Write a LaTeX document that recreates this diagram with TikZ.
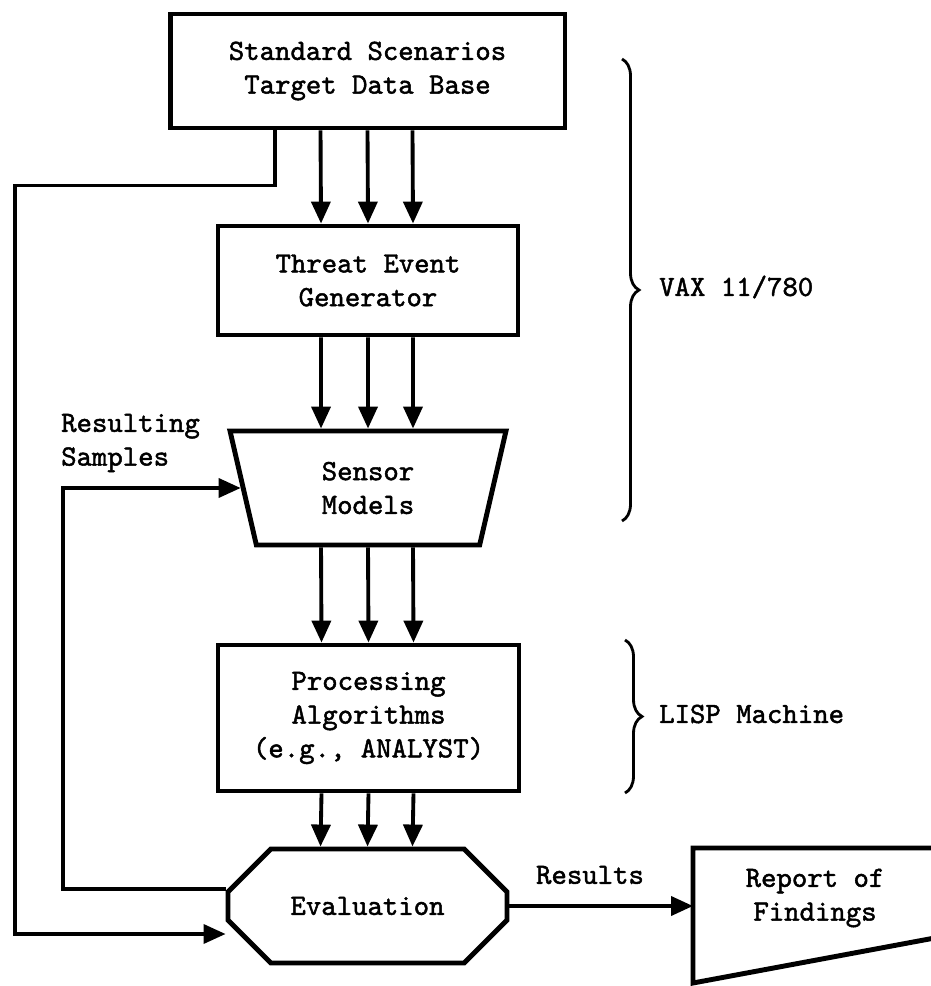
\documentclass[tikz,border=0pt]{standalone}
\usepackage{fontspec}
\usepackage{tikz}
\usetikzlibrary{calc}
\usetikzlibrary{arrows.meta}
\usetikzlibrary{shapes.geometric}
\usetikzlibrary{shapes.misc}
\usetikzlibrary{decorations.pathreplacing}
\newfontfamily\typerfont{lmmono10-regular.otf}[FakeBold=1.6, AutoFakeBold=1.6]

\begin{document}
\begin{tikzpicture}[x=0.02cm, y=-0.02cm,
		font=\fontsize{16.7}{19.2}\selectfont\typerfont\bfseries,
		box/.style={draw, line width=2.8pt, align=center},
		flow/.style={line width=2.2pt, -{Triangle[length=0.44cm, width=0.38cm]}},
		feed/.style={line width=2pt, -{Triangle[length=0.44cm, width=0.38cm]}},
		brace/.style={line width=1.6pt, decorate, decoration={brace, amplitude=0.34cm}}]
	\useasboundingbox (0, 0) rectangle (930, 986);
	\node[box, minimum width=7.9cm, minimum height=2.28cm] (std) at (367.5, 71) {Standard Scenarios\\Target Data Base};
	\node[box, minimum width=6cm, minimum height=2.18cm] (teg) at (368, 280.5) {Threat Event\\Generator};
	\node[box, trapezium, shape border rotate=180, trapezium angle=67.6, trapezium stretches body, minimum width=5.52cm, minimum height=2.28cm] (sensor) at (368, 488) {Sensor\\Models};
	\node[box, minimum width=6.02cm, minimum height=2.92cm] (proc) at (368.5, 718) {Processing\\Algorithms\\(e.g., ANALYST)};
	\node[box, chamfered rectangle, chamfered rectangle xsep=0.6cm, chamfered rectangle ysep=0.56cm, minimum width=5.58cm, minimum height=2.28cm] (eval) at (367.5, 906) {Evaluation};
	\node[align=center] (report) at (815, 898) {Report of\\Findings};
	\draw[line width=2.8pt] (940, 848) -- (693, 848) -- (693, 983) -- (940, 937);
	\coordinate (repin) at (693, 906);
	\foreach \dx in {-0.94, 0, 0.9} {
		\draw[flow] ([xshift=\dx cm]std.south) -- ([xshift=\dx cm]teg.north);
		\draw[flow] ([xshift=\dx cm]teg.south) -- ([xshift=\dx cm]sensor.north);
		\draw[flow] ([xshift=\dx cm]sensor.south) -- ([xshift=\dx cm]proc.north);
		\draw[flow] ([xshift=\dx cm]proc.south) -- ([xshift=\dx cm]eval.north);
	}
	\coordinate (outer) at (15, 0);
	\coordinate (loop) at (63, 0);
	\coordinate (evalin) at ([yshift=-0.56cm]eval.west);
	\draw[feed] ([xshift=-1.85cm]std.south) -- ++(0, 55) -| (outer |- evalin) -- (evalin);
	\draw[feed] ([yshift=0.34cm]eval.west) -| (loop |- sensor.west) -- (sensor.west);
	\node[align=left, anchor=west] (samples) at (55, 443) {Resulting\\Samples};
	\node (results) at (590, 875) {Results};
	\draw[flow] (eval.east) -- (repin);
	\draw[brace] (622, 59) -- (622, 521);
	\draw[brace] (625, 640) -- (625, 793);
	\node[anchor=west] (vax) at (653, 287) {VAX 11/780};
	\node[anchor=west] (lisp) at (653, 714) {LISP Machine};
\end{tikzpicture}
\end{document}
